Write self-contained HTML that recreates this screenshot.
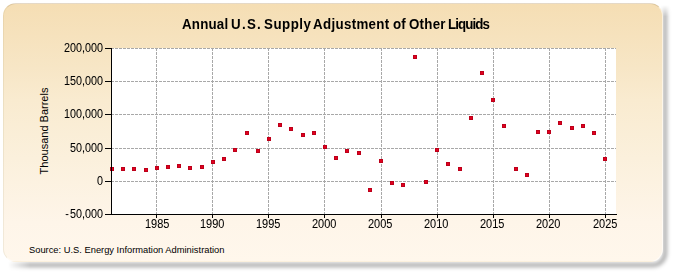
<!DOCTYPE html>
<html><head><meta charset="utf-8">
<style>
html,body{margin:0;padding:0;}
body{width:675px;height:275px;position:relative;overflow:hidden;background:#fff;font-family:"Liberation Sans",sans-serif;color:#000;}
#box{position:absolute;left:3px;top:3px;width:660px;height:259px;border-radius:13px;background:linear-gradient(to bottom,#f5deb4 0%,#f7e6c6 25%,#f9ebd0 37.5%,#fbf0dc 60%,#fef5e9 85%,#fff7ec 100%);box-sizing:border-box;border:1px solid rgba(255,255,255,0.55);border-top-color:rgba(150,130,90,0.25);border-left-color:rgba(150,140,90,0.12);filter:blur(0.5px);}
svg{position:absolute;left:0;top:0;}
.t{position:absolute;white-space:nowrap;}
.tw{position:absolute;top:17px;font-weight:bold;font-size:13.33px;line-height:14px;white-space:nowrap;transform:scaleY(1.1);transform-origin:0 0;}
.yl{position:absolute;right:572px;font-size:10.8px;line-height:14px;white-space:nowrap;text-align:right;transform:scaleY(1.13);-webkit-text-stroke:0.05px #000;}
.xl{position:absolute;top:216px;font-size:11px;white-space:nowrap;line-height:14px;transform:scaleY(1.13);-webkit-text-stroke:0.05px #000;}
#ytitle{position:absolute;left:43.5px;top:131px;font-size:11px;line-height:12px;transform:translate(-50%,-50%) rotate(-90deg);white-space:nowrap;}
#src{position:absolute;left:29px;top:243.5px;font-size:9.33px;line-height:12px;white-space:nowrap;}
</style></head><body>
<svg width="675" height="275" viewBox="0 0 675 275">
<defs>
<filter id="bl" x="-5%" y="-5%" width="110%" height="110%"><feGaussianBlur stdDeviation="2"/></filter>
<linearGradient id="gx" x1="0" y1="0" x2="1" y2="0" gradientUnits="objectBoundingBox"><stop offset="0" stop-color="#000"/><stop offset="0.012" stop-color="#000"/><stop offset="0.045" stop-color="#fff"/><stop offset="1" stop-color="#fff"/></linearGradient>
<linearGradient id="gy" x1="0" y1="0" x2="0" y2="1" gradientUnits="objectBoundingBox"><stop offset="0" stop-color="#000"/><stop offset="0.018" stop-color="#000"/><stop offset="0.06" stop-color="#fff"/><stop offset="1" stop-color="#fff"/></linearGradient>
<mask id="mx" maskUnits="userSpaceOnUse" x="0" y="0" width="675" height="275"><rect x="0" y="0" width="675" height="275" fill="url(#gx)"/></mask>
<mask id="my" maskUnits="userSpaceOnUse" x="0" y="0" width="675" height="275"><rect x="0" y="0" width="675" height="275" fill="url(#gy)"/></mask>
</defs>
<g mask="url(#my)"><g mask="url(#mx)">
<path d="M665,4 V253 A12,12 0 0 1 653,265 H4" stroke="rgba(0,0,0,0.4)" stroke-width="3.5" fill="none" filter="url(#bl)"/>
</g></g>
</svg>
<div id="box"></div>
<svg width="675" height="275" viewBox="0 0 675 275">
<rect x="112" y="48" width="504" height="166" fill="#fff"/>
<g stroke="#a8a8a8" stroke-width="1" stroke-dasharray="3 1" fill="none">
<line x1="156.5" y1="48" x2="156.5" y2="214"/><line x1="212.5" y1="48" x2="212.5" y2="214"/><line x1="268.5" y1="48" x2="268.5" y2="214"/><line x1="324.5" y1="48" x2="324.5" y2="214"/><line x1="381.5" y1="48" x2="381.5" y2="214"/><line x1="437.5" y1="48" x2="437.5" y2="214"/><line x1="493.5" y1="48" x2="493.5" y2="214"/><line x1="549.5" y1="48" x2="549.5" y2="214"/><line x1="605.5" y1="48" x2="605.5" y2="214"/><line x1="111" y1="48.5" x2="616" y2="48.5"/><line x1="111" y1="81.5" x2="616" y2="81.5"/><line x1="111" y1="114.5" x2="616" y2="114.5"/><line x1="111" y1="148.5" x2="616" y2="148.5"/><line x1="111" y1="181.5" x2="616" y2="181.5"/>
</g>
<g fill="#bc001a" stroke="none" shape-rendering="crispEdges">
<rect x="110" y="167" width="4" height="4"/>
<rect x="121" y="167" width="4" height="4"/>
<rect x="132" y="167" width="4" height="4"/>
<rect x="144" y="168" width="4" height="4"/>
<rect x="155" y="166" width="4" height="4"/>
<rect x="166" y="165" width="4" height="4"/>
<rect x="177" y="164" width="4" height="4"/>
<rect x="188" y="166" width="4" height="4"/>
<rect x="200" y="165" width="4" height="4"/>
<rect x="211" y="160" width="4" height="4"/>
<rect x="222" y="157" width="4" height="4"/>
<rect x="233" y="148" width="4" height="4"/>
<rect x="245" y="131" width="4" height="4"/>
<rect x="256" y="149" width="4" height="4"/>
<rect x="267" y="137" width="4" height="4"/>
<rect x="278" y="123" width="4" height="4"/>
<rect x="289" y="127" width="4" height="4"/>
<rect x="301" y="133" width="4" height="4"/>
<rect x="312" y="131" width="4" height="4"/>
<rect x="323" y="145" width="4" height="4"/>
<rect x="334" y="156" width="4" height="4"/>
<rect x="345" y="149" width="4" height="4"/>
<rect x="357" y="151" width="4" height="4"/>
<rect x="368" y="188" width="4" height="4"/>
<rect x="379" y="159" width="4" height="4"/>
<rect x="390" y="181" width="4" height="4"/>
<rect x="401" y="183" width="4" height="4"/>
<rect x="413" y="55" width="4" height="4"/>
<rect x="424" y="180" width="4" height="4"/>
<rect x="435" y="148" width="4" height="4"/>
<rect x="446" y="162" width="4" height="4"/>
<rect x="458" y="167" width="4" height="4"/>
<rect x="469" y="116" width="4" height="4"/>
<rect x="480" y="71" width="4" height="4"/>
<rect x="491" y="98" width="4" height="4"/>
<rect x="502" y="124" width="4" height="4"/>
<rect x="514" y="167" width="4" height="4"/>
<rect x="525" y="173" width="4" height="4"/>
<rect x="536" y="130" width="4" height="4"/>
<rect x="547" y="130" width="4" height="4"/>
<rect x="558" y="121" width="4" height="4"/>
<rect x="570" y="126" width="4" height="4"/>
<rect x="581" y="124" width="4" height="4"/>
<rect x="592" y="131" width="4" height="4"/>
<rect x="603" y="157" width="4" height="4"/>
</g>
<g fill="#e2001e" stroke="none" shape-rendering="crispEdges">
<rect x="111" y="168" width="2" height="2"/><rect x="122" y="168" width="2" height="2"/><rect x="133" y="168" width="2" height="2"/><rect x="145" y="169" width="2" height="2"/><rect x="156" y="167" width="2" height="2"/><rect x="167" y="166" width="2" height="2"/><rect x="178" y="165" width="2" height="2"/><rect x="189" y="167" width="2" height="2"/><rect x="201" y="166" width="2" height="2"/><rect x="212" y="161" width="2" height="2"/><rect x="223" y="158" width="2" height="2"/><rect x="234" y="149" width="2" height="2"/><rect x="246" y="132" width="2" height="2"/><rect x="257" y="150" width="2" height="2"/><rect x="268" y="138" width="2" height="2"/><rect x="279" y="124" width="2" height="2"/><rect x="290" y="128" width="2" height="2"/><rect x="302" y="134" width="2" height="2"/><rect x="313" y="132" width="2" height="2"/><rect x="324" y="146" width="2" height="2"/><rect x="335" y="157" width="2" height="2"/><rect x="346" y="150" width="2" height="2"/><rect x="358" y="152" width="2" height="2"/><rect x="369" y="189" width="2" height="2"/><rect x="380" y="160" width="2" height="2"/><rect x="391" y="182" width="2" height="2"/><rect x="402" y="184" width="2" height="2"/><rect x="414" y="56" width="2" height="2"/><rect x="425" y="181" width="2" height="2"/><rect x="436" y="149" width="2" height="2"/><rect x="447" y="163" width="2" height="2"/><rect x="459" y="168" width="2" height="2"/><rect x="470" y="117" width="2" height="2"/><rect x="481" y="72" width="2" height="2"/><rect x="492" y="99" width="2" height="2"/><rect x="503" y="125" width="2" height="2"/><rect x="515" y="168" width="2" height="2"/><rect x="526" y="174" width="2" height="2"/><rect x="537" y="131" width="2" height="2"/><rect x="548" y="131" width="2" height="2"/><rect x="559" y="122" width="2" height="2"/><rect x="571" y="127" width="2" height="2"/><rect x="582" y="125" width="2" height="2"/><rect x="593" y="132" width="2" height="2"/><rect x="604" y="158" width="2" height="2"/>
</g>
<g stroke="#000" stroke-width="1" fill="none" shape-rendering="crispEdges">
<line x1="111.5" y1="48" x2="111.5" y2="215"/>
<line x1="111" y1="214.5" x2="617" y2="214.5"/>
<line x1="105" y1="48.5" x2="111" y2="48.5"/><line x1="105" y1="81.5" x2="111" y2="81.5"/><line x1="105" y1="114.5" x2="111" y2="114.5"/><line x1="105" y1="148.5" x2="111" y2="148.5"/><line x1="105" y1="181.5" x2="111" y2="181.5"/><line x1="105" y1="214.5" x2="111" y2="214.5"/><line x1="156.5" y1="214" x2="156.5" y2="218"/><line x1="212.5" y1="214" x2="212.5" y2="218"/><line x1="268.5" y1="214" x2="268.5" y2="218"/><line x1="324.5" y1="214" x2="324.5" y2="218"/><line x1="381.5" y1="214" x2="381.5" y2="218"/><line x1="437.5" y1="214" x2="437.5" y2="218"/><line x1="493.5" y1="214" x2="493.5" y2="218"/><line x1="549.5" y1="214" x2="549.5" y2="218"/><line x1="605.5" y1="214" x2="605.5" y2="218"/>
</g>
</svg>
<div class="tw" style="left:182px;letter-spacing:0.2px">Annual</div><div class="tw" style="left:231px;letter-spacing:1.3px">U.S.</div><div class="tw" style="left:264px;letter-spacing:0.5px">Supply</div><div class="tw" style="left:313px;letter-spacing:0.33px">Adjustment</div><div class="tw" style="left:393px;letter-spacing:0px">of</div><div class="tw" style="left:409px;letter-spacing:0.25px">Other</div><div class="tw" style="left:448px;letter-spacing:-0.9px">Liquids</div>
<div class="yl" style="top:40px">200,000</div>
<div class="yl" style="top:73px">150,000</div>
<div class="yl" style="top:106px">100,000</div>
<div class="yl" style="top:140px">50,000</div>
<div class="yl" style="top:173px">0</div>
<div class="yl" style="top:206px"><span style="margin-right:1.2px">-</span>50,000</div>

<div class="xl" style="left:145px">1985</div>
<div class="xl" style="left:200px">1990</div>
<div class="xl" style="left:256px">1995</div>
<div class="xl" style="left:312px">2000</div>
<div class="xl" style="left:368px">2005</div>
<div class="xl" style="left:424px">2010</div>
<div class="xl" style="left:480px">2015</div>
<div class="xl" style="left:536px">2020</div>
<div class="xl" style="left:593px">2025</div>

<div id="ytitle">Thousand Barrels</div>
<div id="src">Source: U.S. Energy Information Administration</div>
</body></html>
